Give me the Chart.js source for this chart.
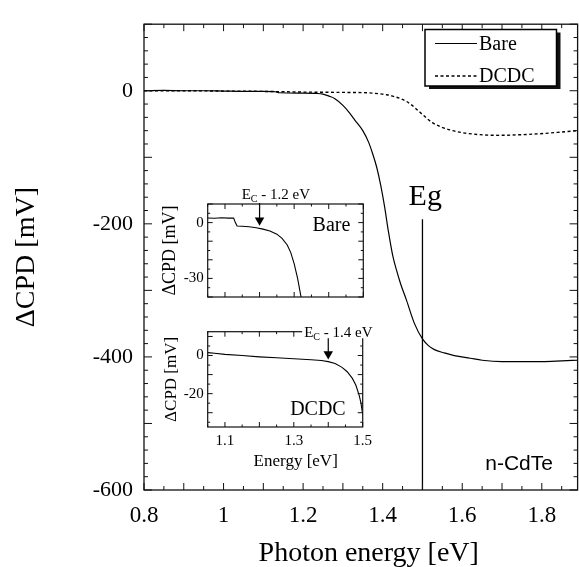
<!DOCTYPE html>
<html>
<head>
<meta charset="utf-8">
<script src="https://cdn.jsdelivr.net/npm/chart.js@4.4.1/dist/chart.umd.min.js"></script>
<style>
  body { margin: 0; background: #fff; overflow: hidden; }
  #wrap { position: relative; width: 579px; height: 567px; }
  canvas { position: absolute; }
</style>
</head>
<body>
<div id="wrap">
  <canvas id="main" width="579" height="567" style="left:0;top:0"></canvas>
  <canvas id="insetBare" width="230" height="125" style="left:150px;top:185px"></canvas>
  <canvas id="insetDcdc" width="240" height="160" style="left:150px;top:318px"></canvas>
</div>
<script>
// main plot: SPV of n-CdTe, bare vs DCDC treated
const bareEnergy = [0.80, 0.85, 0.90, 0.95, 1.00, 1.05, 1.10, 1.13, 1.14, 1.20, 1.23, 1.25, 1.265, 1.28, 1.30, 1.315, 1.33, 1.35, 1.365, 1.375, 1.385, 1.395, 1.405, 1.414, 1.425, 1.435, 1.445, 1.46, 1.48, 1.50, 1.515, 1.53, 1.555, 1.58, 1.62, 1.65, 1.70, 1.75, 1.80, 1.85, 1.89];
const bareCpd = [0, 0.5, 0, 0, -0.5, -1, -1, -1.5, -3, -3.5, -4, -5, -8, -12, -22, -32, -44, -60, -78, -95, -115, -142, -175, -210, -247, -270, -290, -315, -350, -373, -383, -389, -394, -398, -402, -405, -407, -407, -407, -406, -405];

const dcdcEnergy = [0.80, 0.90, 1.00, 1.10, 1.20, 1.30, 1.36, 1.39, 1.41, 1.43, 1.45, 1.465, 1.48, 1.495, 1.51, 1.525, 1.545, 1.57, 1.60, 1.645, 1.69, 1.75, 1.81, 1.85, 1.89];
const dcdcCpd = [0, 0, -0.5, -1, -2, -2.5, -3, -4.5, -6, -9, -13, -18, -25, -33, -41, -48, -54, -59, -63, -66, -67, -66, -64, -62, -60];

const egEnergy = [1.5, 1.5];
const egCpd = [-193, -600];

const xTickLabels = [0.8, 1, 1.2, 1.4, 1.6, 1.8];
const yTickLabels = [0, -200, -400, -600];

// insets (zoom below the gap)
const insetBareEnergy = [1.05, 1.07, 1.09, 1.11, 1.125, 1.13, 1.135, 1.15, 1.17, 1.19, 1.21, 1.23, 1.25, 1.265, 1.28, 1.29, 1.30, 1.31, 1.318, 1.322];
const insetBareCpd = [2.5, 2.3, 2.6, 2.4, 2.5, 0, -1.8, -2, -2.2, -2.8, -3.5, -4.5, -6.2, -8.5, -12, -16, -22, -30, -38, -42];

const insetDcdcEnergy = [1.05, 1.07, 1.10, 1.15, 1.20, 1.25, 1.30, 1.35, 1.38, 1.40, 1.42, 1.44, 1.455, 1.47, 1.48, 1.49, 1.495, 1.50];
const insetDcdcCpd = [1.5, 1.2, 0.6, 0, -0.7, -1.2, -1.7, -2.2, -2.6, -3.2, -4.2, -6.2, -8.5, -12, -15.5, -21, -25, -31];

const insetXTickLabels = [1.1, 1.3, 1.5];
const insetBareYTicks = [0, -30];
const insetDcdcYTicks = [0, -20];

const serif = "'Liberation Serif', 'DejaVu Serif', serif";
const sans = "'Liberation Sans', Arial, sans-serif";

const pts = (xs, ys) => xs.map((x, i) => ({ x: x, y: ys[i] }));

// inward tick marks: [value, length]
function marks(lo, hi, step, major, longLen, shortLen) {
  const out = [];
  const n = Math.round((hi - lo) / step);
  for (let i = 0; i <= n; i++) {
    const v = lo + i * step;
    const r = v / major;
    out.push([v, Math.abs(r - Math.round(r)) < 1e-6 ? longLen : shortLen]);
  }
  return out;
}

const framePlugin = {
  id: 'frame',
  beforeDraw(chart, args, o) {
    if (!o.fill) return;
    const { ctx, chartArea: a } = chart;
    ctx.save();
    ctx.fillStyle = '#fff';
    ctx.fillRect(a.left, a.top, a.right - a.left, a.bottom - a.top);
    ctx.restore();
  },
  afterDatasetsDraw(chart, args, o) {
    const { ctx, chartArea: a, scales: { x, y } } = chart;
    ctx.save();
    ctx.strokeStyle = '#111';
    ctx.lineWidth = o.lineWidth || 1.3;
    ctx.strokeRect(a.left, a.top, a.right - a.left, a.bottom - a.top);
    ctx.lineWidth = 1;
    ctx.beginPath();
    o.xMarks.forEach(([v, len]) => {
      const px = x.getPixelForValue(v);
      ctx.moveTo(px, a.bottom); ctx.lineTo(px, a.bottom - len);
      ctx.moveTo(px, a.top); ctx.lineTo(px, a.top + len);
    });
    o.yMarks.forEach(([v, len]) => {
      const py = y.getPixelForValue(v);
      ctx.moveTo(a.left, py); ctx.lineTo(a.left + len, py);
      ctx.moveTo(a.right, py); ctx.lineTo(a.right - len, py);
    });
    ctx.stroke();
    ctx.restore();
  }
};

const notesPlugin = {
  id: 'notes',
  afterDraw(chart, args, o) {
    const { ctx, scales: { x, y } } = chart;
    (o.items || []).forEach(it => {
      const px = x.getPixelForValue(it.x);
      const py = y.getPixelForValue(it.y);
      const parts = it.parts || [{ t: it.text }];
      ctx.save();
      ctx.textBaseline = 'alphabetic';
      ctx.textAlign = 'left';
      let total = 0;
      parts.forEach(p => {
        ctx.font = p.sub ? it.subFont : it.font;
        p.w = ctx.measureText(p.t).width;
        total += p.w;
      });
      let cx = it.align === 'left' ? px : px - total / 2;
      if (it.bg) {
        ctx.fillStyle = '#fff';
        ctx.fillRect(cx - 2, py - it.bg, total + 3, it.bg + 1);
      }
      ctx.fillStyle = '#000';
      parts.forEach(p => {
        ctx.font = p.sub ? it.subFont : it.font;
        ctx.fillText(p.t, cx, py + (p.sub ? 3 : 0));
        cx += p.w;
      });
      ctx.restore();
    });
  }
};

const boxLegend = {
  id: 'boxLegend',
  afterDraw(chart, args, o) {
    const { ctx } = chart;
    const b = o.box;
    ctx.save();
    ctx.fillStyle = '#111';
    ctx.fillRect(b.x + 4, b.y + 3, b.w, b.h);
    ctx.fillStyle = '#fff';
    ctx.fillRect(b.x, b.y, b.w, b.h);
    ctx.strokeStyle = '#000';
    ctx.lineWidth = 1.5;
    ctx.strokeRect(b.x, b.y, b.w, b.h);
    chart.data.datasets.filter(d => d.inLegend).forEach((d, i) => {
      const yy = b.y + o.firstRow + i * o.rowGap;
      ctx.setLineDash(d.borderDash || []);
      ctx.lineWidth = d.borderWidth;
      ctx.beginPath();
      ctx.moveTo(b.x + 10, yy);
      ctx.lineTo(b.x + 52, yy);
      ctx.stroke();
      ctx.setLineDash([]);
      ctx.fillStyle = '#000';
      ctx.font = o.font;
      ctx.textBaseline = 'middle';
      ctx.fillText(d.label, b.x + 54, yy + 1);
    });
    ctx.restore();
  }
};

const baseTicks = (size, padding) => ({
  color: '#000', font: { family: serif, size: size }, padding: padding,
  maxRotation: 0, autoSkip: false, callback: v => String(v)
});
const noGrid = { display: false, drawTicks: false };

// main chart
new Chart(document.getElementById('main'), {
  type: 'line',
  data: {
    datasets: [
      { label: 'Bare', inLegend: true, data: pts(bareEnergy, bareCpd), borderColor: '#000', borderWidth: 1.2, pointRadius: 0, cubicInterpolationMode: 'monotone' },
      { label: 'DCDC', inLegend: true, data: pts(dcdcEnergy, dcdcCpd), borderColor: '#000', borderWidth: 1.4, borderDash: [3, 2.5], pointRadius: 0, cubicInterpolationMode: 'monotone' },
      { label: 'Eg', data: pts(egEnergy, egCpd), borderColor: '#000', borderWidth: 1.3, pointRadius: 0 }
    ]
  },
  options: {
    responsive: false,
    animation: false,
    layout: { padding: { left: 0, right: 1.4, top: 13.4, bottom: 0 } },
    scales: {
      x: {
        type: 'linear', min: 0.8, max: 1.89,
        afterBuildTicks: s => { s.ticks = xTickLabels.map(v => ({ value: v })); },
        afterFit: s => { s.height = 77; },
        grid: noGrid, border: { display: false },
        ticks: baseTicks(23, 12)
      },
      y: {
        type: 'linear', min: -600, max: 100,
        afterBuildTicks: s => { s.ticks = yTickLabels.map(v => ({ value: v })); },
        afterFit: s => { s.width = 144; },
        grid: noGrid, border: { display: false },
        ticks: baseTicks(22, 11),
        title: { display: true, text: 'ΔCPD [mV]', color: '#000', font: { family: serif, size: 28 }, padding: { top: 10, bottom: 0 } }
      }
    },
    plugins: {
      legend: { display: false },
      tooltip: { enabled: false },
      frame: { xMarks: marks(0.8, 1.85, 0.05, 0.1, 7, 4), yMarks: marks(-600, 100, 20, 100, 8, 4) },
      boxLegend: { box: { x: 425, y: 29.5, w: 131.5, h: 56.5 }, firstRow: 14, rowGap: 32.5, font: '20px ' + serif },
      notes: {
        items: [
          { text: 'Eg', x: 1.507, y: -171.6, font: '30px ' + serif },
          { text: 'n-CdTe', x: 1.743, y: -570, font: '21px ' + sans },
          { text: 'Photon energy [eV]', x: 1.365, y: -706, font: '28px ' + serif }
        ]
      }
    }
  },
  plugins: [framePlugin, boxLegend, notesPlugin]
});

function insetOptions(cfg) {
  return {
    responsive: false,
    animation: false,
    layout: { padding: { left: 0, right: cfg.right, top: cfg.top, bottom: 0 } },
    scales: {
      x: {
        type: 'linear', min: 1.05, max: 1.5,
        afterBuildTicks: s => { s.ticks = insetXTickLabels.map(v => ({ value: v })); },
        afterFit: s => { s.height = cfg.xHeight; },
        grid: noGrid, border: { display: false },
        ticks: Object.assign(baseTicks(15, 5), { display: cfg.xLabels })
      },
      y: {
        type: 'linear', min: cfg.yMin, max: cfg.yMax,
        afterBuildTicks: s => { s.ticks = cfg.yTicks.map(v => ({ value: v })); },
        afterFit: s => { s.width = 57.7; },
        grid: noGrid, border: { display: false },
        ticks: baseTicks(15, 4),
        title: { display: true, text: 'ΔCPD [mV]', color: '#000', font: { family: serif, size: cfg.titleSize }, padding: { top: cfg.titlePad, bottom: 0 } }
      }
    },
    plugins: {
      legend: { display: false },
      tooltip: { enabled: false },
      frame: { fill: true, lineWidth: 1.2, xMarks: marks(1.05, 1.5, 0.05, 0.1, 5, 2.5), yMarks: marks(cfg.markLo, cfg.markHi, 5, 10, 5, 2.5) },
      notes: { items: cfg.notes }
    }
  };
}

const arrow = (xs, ys) => ({
  data: pts(xs, ys), borderColor: '#000', borderWidth: 1.2, clip: false,
  pointRadius: [0, 5.5], pointStyle: 'triangle', pointRotation: 180,
  pointBackgroundColor: '#000', pointBorderWidth: 0
});

new Chart(document.getElementById('insetBare'), {
  type: 'line',
  data: {
    datasets: [
      { data: pts(insetBareEnergy, insetBareCpd), borderColor: '#000', borderWidth: 1.1, pointRadius: 0 },
      arrow([1.2, 1.2], [10.5, 1.25])
    ]
  },
  options: insetOptions({
    right: 16.7, top: 19, xHeight: 6, xLabels: false,
    yMin: -40, yMax: 10, yTicks: insetBareYTicks, markLo: -40, markHi: 10,
    titleSize: 18, titlePad: 9,
    notes: [
      { text: 'Bare', x: 1.408, y: -4.75, font: '20px ' + serif },
      { parts: [{ t: 'E' }, { t: 'C', sub: true }, { t: ' - 1.2 eV' }], x: 1.247, y: 12.85, font: '15px ' + serif, subFont: '10px ' + serif }
    ]
  }),
  plugins: [framePlugin, notesPlugin]
});

new Chart(document.getElementById('insetDcdc'), {
  type: 'line',
  data: {
    datasets: [
      { data: pts(insetDcdcEnergy, insetDcdcCpd), borderColor: '#000', borderWidth: 1.1, pointRadius: 0 },
      arrow([1.4, 1.4], [9.5, 0.8])
    ]
  },
  options: insetOptions({
    right: 27.3, top: 13.7, xHeight: 51, xLabels: true,
    yMin: -37.5, yMax: 12.5, yTicks: insetDcdcYTicks, markLo: -35, markHi: 10,
    titleSize: 17, titlePad: 11,
    notes: [
      { text: 'DCDC', x: 1.37, y: -31, font: '20px ' + serif },
      { parts: [{ t: 'E' }, { t: 'C', sub: true }, { t: ' - 1.4 eV' }], x: 1.33, y: 9.6, align: 'left', bg: 11, font: '15px ' + serif, subFont: '10px ' + serif },
      { text: 'Energy [eV]', x: 1.3055, y: -57.7, font: '17px ' + serif }
    ]
  }),
  plugins: [framePlugin, notesPlugin]
});
</script>
</body>
</html>
